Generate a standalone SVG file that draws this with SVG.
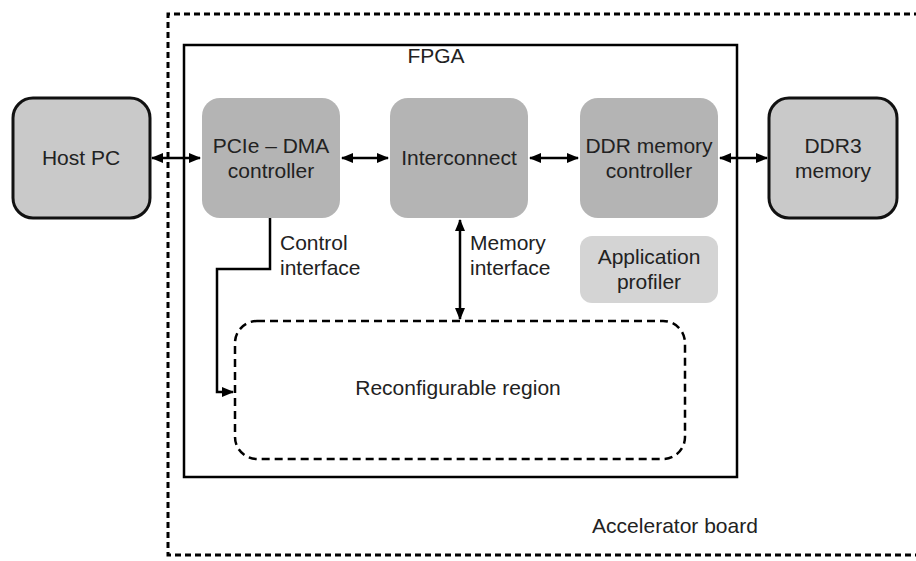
<svg xmlns="http://www.w3.org/2000/svg" width="916" height="561" viewBox="0 0 916 561">
<style>
text{font-family:"Liberation Sans",Arial,sans-serif;font-size:21px;fill:#222;text-anchor:middle}
.ext{fill:#c9c9c9;stroke:#111;stroke-width:3}
.blk{fill:#b4b4b4}
.lt{fill:#d4d4d4}
.con{stroke:#000;stroke-width:2.5;fill:none}
.lbl{text-anchor:start}
</style>
<defs>
<marker id="ah" viewBox="0 0 12 10" refX="11" refY="5" markerWidth="12" markerHeight="10" markerUnits="userSpaceOnUse" orient="auto-start-reverse">
<path d="M0,0 L12,5 L0,10 Z" fill="#000"/>
</marker>
</defs>
<rect width="916" height="561" fill="#fff"/>
<g id="board">
<path d="M920,14 H168 V555 H920" fill="none" stroke="#000" stroke-width="3" stroke-dasharray="6,4"/>
<text x="675" y="533">Accelerator board</text>
</g>
<g id="fpga">
<rect x="184" y="45" width="553" height="432" fill="none" stroke="#000" stroke-width="2.5"/>
<text x="436" y="63">FPGA</text>
</g>
<g id="host">
<rect class="ext" x="13" y="98" width="137" height="120" rx="20"/>
<text x="81" y="165">Host PC</text>
</g>
<g id="pcie">
<rect class="blk" x="202" y="98" width="138" height="120" rx="18"/>
<text x="271" y="153">PCIe – DMA</text>
<text x="271" y="178">controller</text>
</g>
<g id="interconnect">
<rect class="blk" x="390" y="98" width="138" height="120" rx="18"/>
<text x="459" y="165">Interconnect</text>
</g>
<g id="ddrctrl">
<rect class="blk" x="580" y="98" width="138" height="120" rx="18"/>
<text x="649" y="153">DDR memory</text>
<text x="649" y="178">controller</text>
</g>
<g id="ddr3">
<rect class="ext" x="769" y="98" width="128" height="120" rx="20"/>
<text x="833" y="153">DDR3</text>
<text x="833" y="178">memory</text>
</g>
<g id="profiler">
<rect class="lt" x="580" y="236" width="138" height="67" rx="12"/>
<text x="649" y="264">Application</text>
<text x="649" y="289">profiler</text>
</g>
<g id="reconfig">
<rect x="235" y="321" width="450" height="138" rx="22" fill="none" stroke="#000" stroke-width="2.5" stroke-dasharray="8,5"/>
<text x="458" y="395">Reconfigurable region</text>
</g>
<g id="connectors">
<line class="con" x1="152" y1="158" x2="200" y2="158" marker-start="url(#ah)" marker-end="url(#ah)"/>
<line class="con" x1="342" y1="158" x2="388" y2="158" marker-start="url(#ah)" marker-end="url(#ah)"/>
<line class="con" x1="530" y1="158" x2="578" y2="158" marker-start="url(#ah)" marker-end="url(#ah)"/>
<line class="con" x1="720" y1="158" x2="767" y2="158" marker-start="url(#ah)" marker-end="url(#ah)"/>
<path class="con" d="M270,218 V269 H217 V392 H233" marker-end="url(#ah)"/>
<line class="con" x1="460" y1="220" x2="460" y2="319" marker-start="url(#ah)" marker-end="url(#ah)"/>
<text class="lbl" x="280" y="250">Control</text>
<text class="lbl" x="280" y="275">interface</text>
<text class="lbl" x="470" y="250">Memory</text>
<text class="lbl" x="470" y="275">interface</text>
</g>
</svg>
